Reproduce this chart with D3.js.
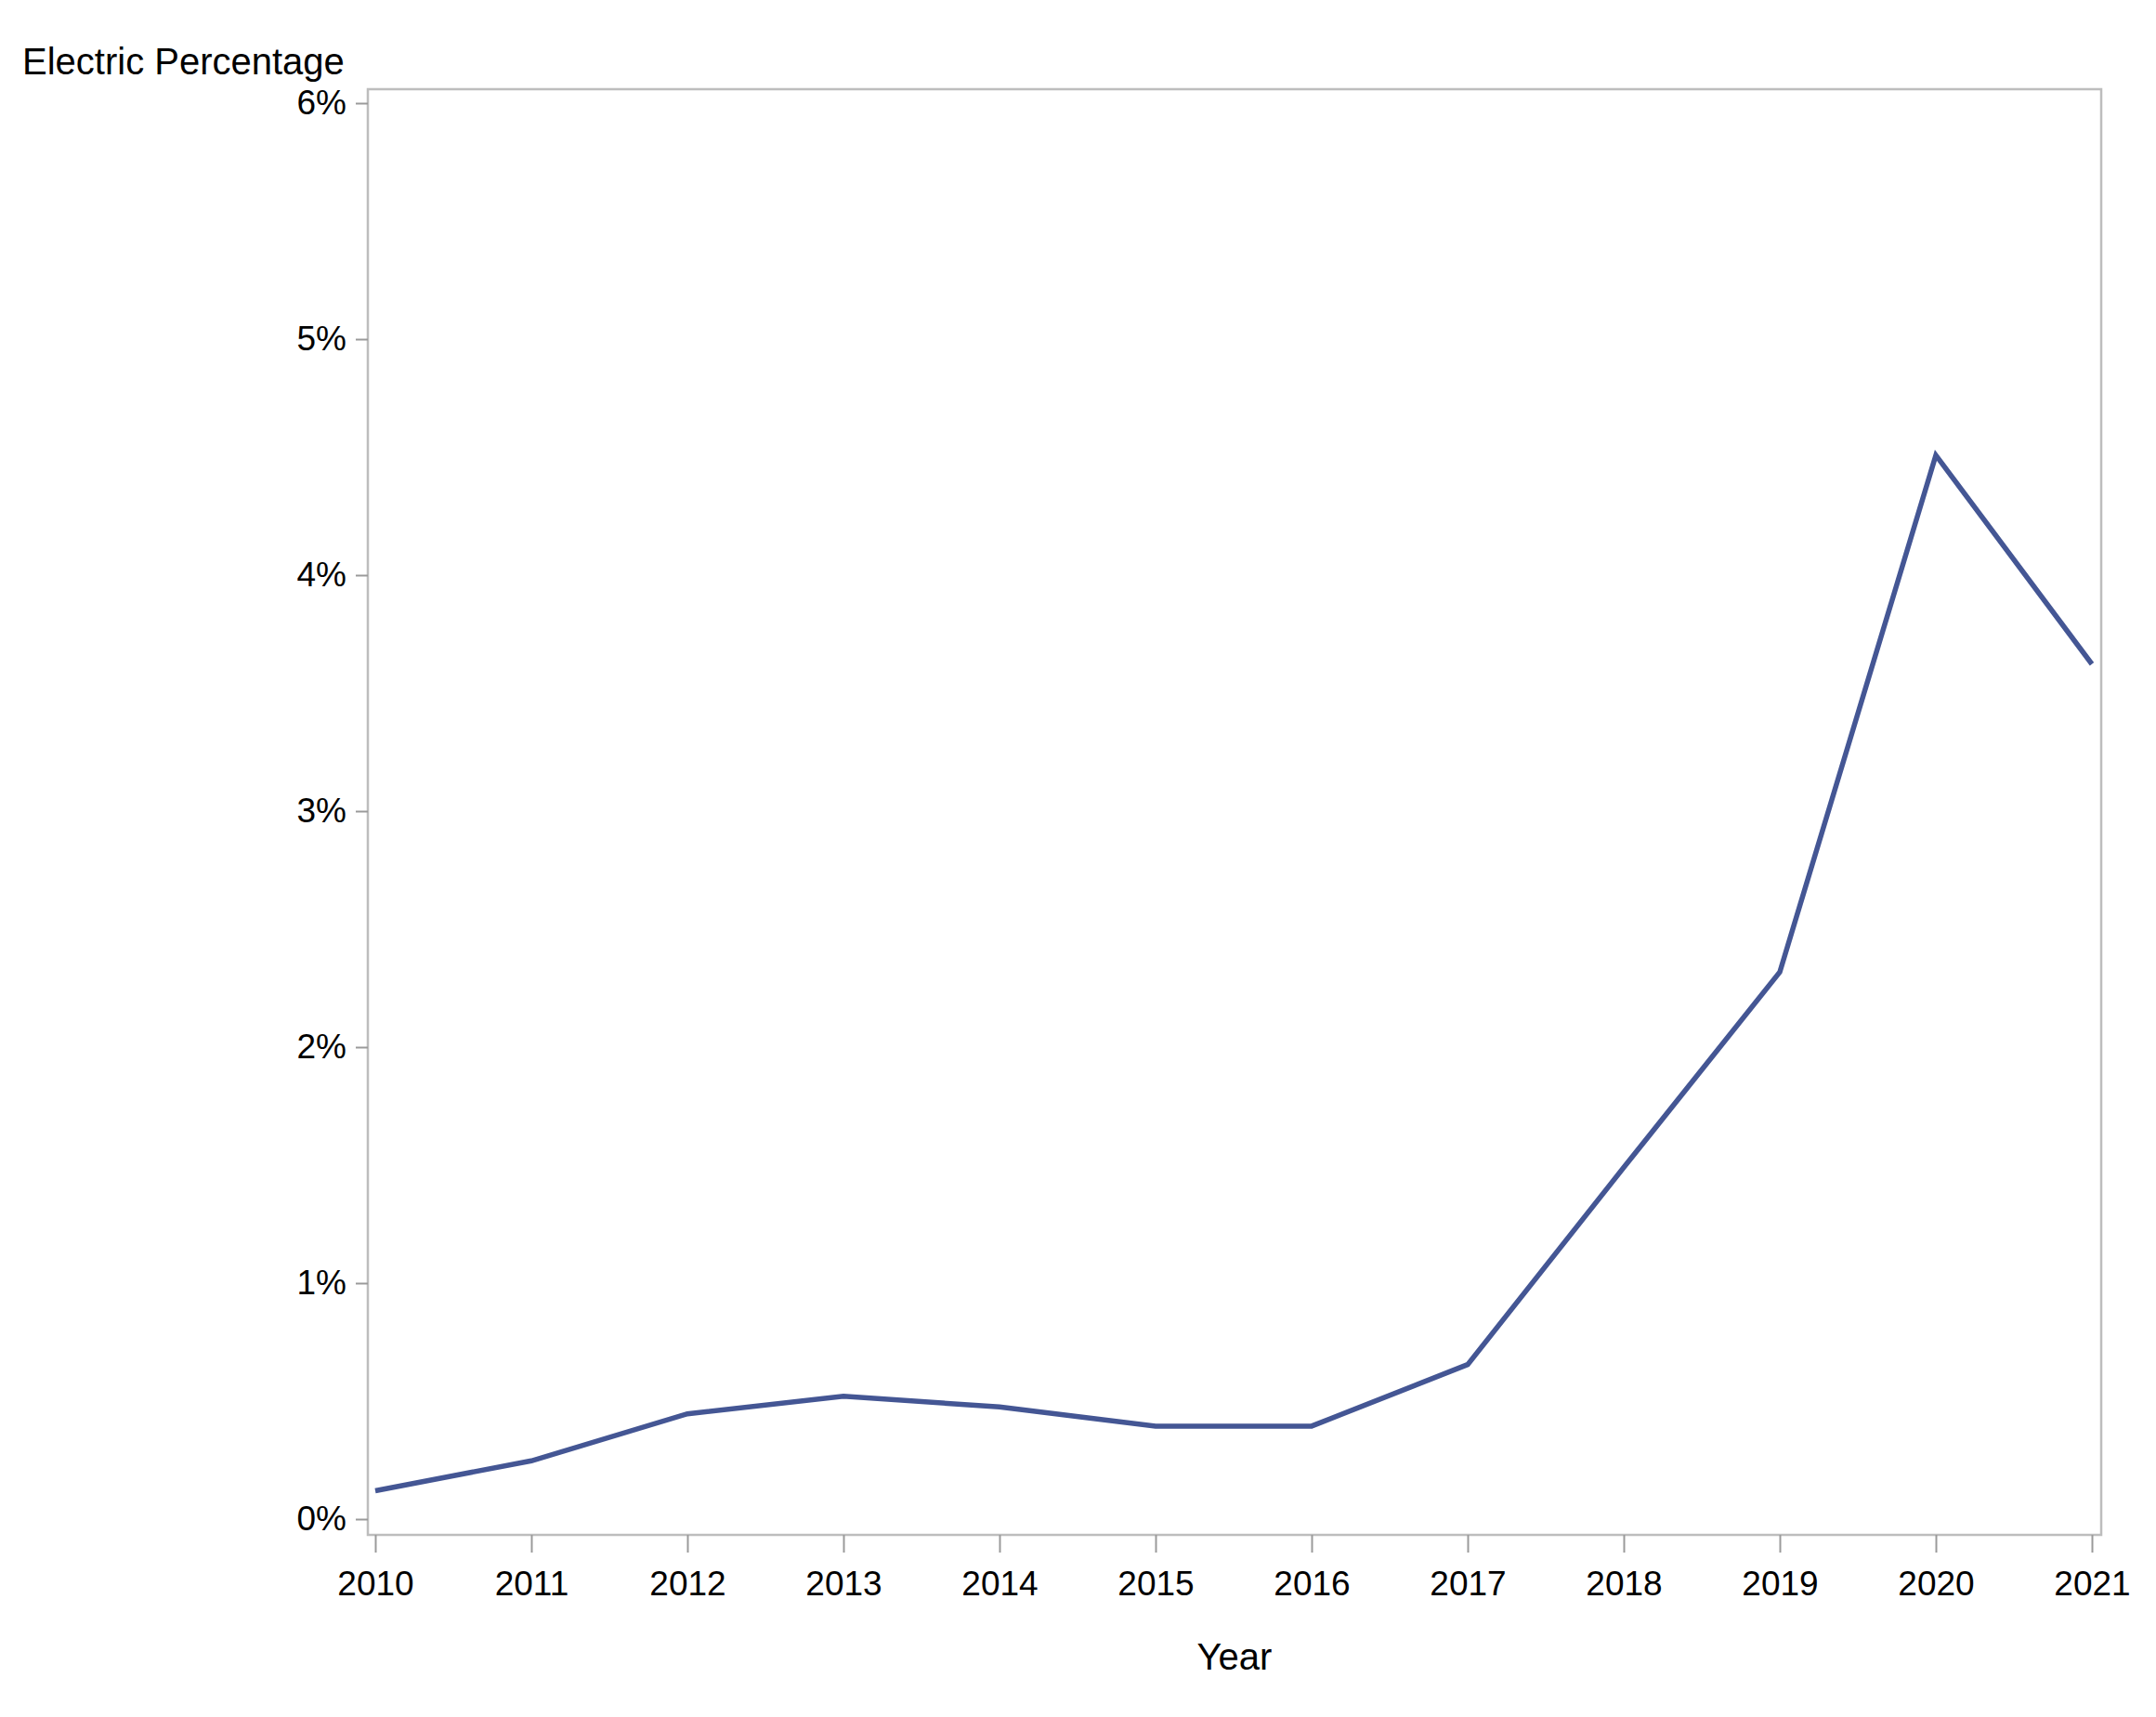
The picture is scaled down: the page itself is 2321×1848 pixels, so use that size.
<!DOCTYPE html>
<html>
<head>
<meta charset="utf-8">
<script src="https://cdn.jsdelivr.net/npm/d3@7"></script>
<style>
  html, body { margin: 0; padding: 0; background: #ffffff; }
  svg { display: block; }
  text { font-family: "Liberation Sans", Arial, sans-serif; fill: #000; }
</style>
</head>
<body>
<script>
// ---- data ----
const years = [2010, 2011, 2012, 2013, 2014, 2015, 2016, 2017, 2018, 2019, 2020, 2021];
const electricPct = [0.12, 0.247, 0.446, 0.521, 0.475, 0.394, 0.394, 0.655, 1.49, 2.318, 4.508, 3.623];
const yTicks = [0, 1, 2, 3, 4, 5, 6];
const yTitle = "Electric Percentage";
const xTitle = "Year";

const W = 2321, H = 1848;
const frame = { left: 396, right: 2262, top: 96, bottom: 1652 };
const tickFs = 37;
const titleFs = 40;

const svg = d3.select("body").append("svg")
  .attr("width", W).attr("height", H);

const x = d3.scaleLinear().domain([2010, 2021]).range([404, 2252]);
const y = d3.scaleLinear().domain([0, 6]).range([1635, 111]);

// frame
svg.append("rect")
  .attr("x", frame.left).attr("y", frame.top)
  .attr("width", frame.right - frame.left)
  .attr("height", frame.bottom - frame.top)
  .attr("fill", "none")
  .attr("stroke", "#bdbdbd")
  .attr("stroke-width", 2.5);

// y axis
const yAxis = svg.append("g")
  .attr("transform", `translate(${frame.left},0)`)
  .call(d3.axisLeft(y).tickValues(yTicks).tickFormat(d => d + "%").tickSize(13).tickPadding(10));
yAxis.select(".domain").remove();
yAxis.selectAll(".tick line").attr("stroke", "#9a9a9a").attr("stroke-width", 2);
yAxis.selectAll(".tick text").attr("font-size", tickFs).attr("font-family", "Liberation Sans, Arial, sans-serif").attr("fill", "#000");

// x axis
const xAxis = svg.append("g")
  .attr("transform", `translate(0,${frame.bottom})`)
  .call(d3.axisBottom(x).tickValues(years).tickFormat(d3.format("d")).tickSize(19).tickPadding(20));
xAxis.select(".domain").remove();
xAxis.selectAll(".tick line").attr("stroke", "#9a9a9a").attr("stroke-width", 2);
xAxis.selectAll(".tick text").attr("font-size", tickFs).attr("font-family", "Liberation Sans, Arial, sans-serif").attr("fill", "#000");

// line
const data = years.map((yr, i) => ({ yr, v: electricPct[i] }));
svg.append("path")
  .datum(data)
  .attr("fill", "none")
  .attr("stroke", "#445694")
  .attr("stroke-width", 5.5)
  .attr("stroke-linejoin", "miter")
  .attr("d", d3.line().x(d => x(d.yr)).y(d => y(d.v)));

// titles
svg.append("text")
  .attr("x", 24).attr("y", 80)
  .attr("font-size", titleFs)
  .text(yTitle);

svg.append("text")
  .attr("x", (frame.left + frame.right) / 2).attr("y", 1797)
  .attr("text-anchor", "middle")
  .attr("font-size", titleFs)
  .text(xTitle);
</script>
</body>
</html>
